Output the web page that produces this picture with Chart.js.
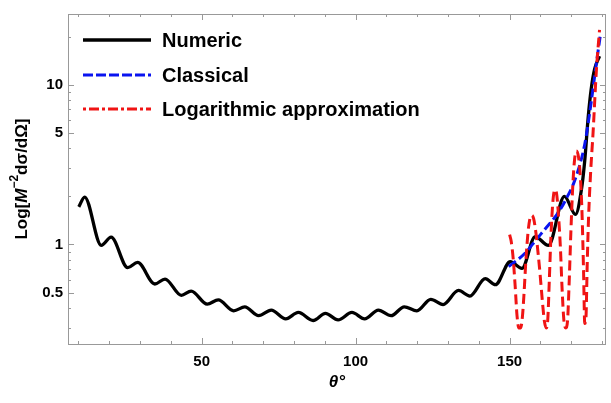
<!DOCTYPE html>
<html>
<head>
<meta charset="utf-8">
<script src="https://cdn.jsdelivr.net/npm/chart.js@4"></script>
<style>
  html, body { margin: 0; padding: 0; background: #fff; }
  #wrap { width: 611px; height: 403px; }
</style>
</head>
<body>
<div id="wrap"><canvas id="chart" width="611" height="403"></canvas></div>
<script>
// DATA

// Numeric (black solid)
var numericTheta = [10.1, 12.0, 17.4, 20.6, 26.0, 29.2, 34.8, 38.1, 43.4, 46.6, 51.8, 55.4, 60.4, 64.0,
    68.5, 72.6, 77.3, 81.4, 86.2, 90.2, 94.3, 98.8, 102.9, 107.4, 111.5, 115.8, 119.9, 124.4, 128.4,
    133.4, 137.1, 142.1, 145.4, 150.2, 154.0, 158.3, 162.6, 167.8, 171.4, 173.3, 174.4, 175.5, 176.5,
    177.6, 179.2];
var numericValue = [1.72, 1.98, 0.986, 1.11, 0.715, 0.771, 0.565, 0.607, 0.480, 0.510, 0.423, 0.449, 0.384, 0.406,
    0.358, 0.388, 0.342, 0.375, 0.334, 0.370, 0.337, 0.375, 0.342, 0.388, 0.358, 0.407, 0.384, 0.453, 0.420,
    0.515, 0.475, 0.610, 0.560, 0.779, 0.708, 1.12, 0.986, 2.0, 1.54, 2.19, 3.35, 6.2, 9.4,
    12.5, 15.1];

// Classical (blue dashed)
var classicalTheta = [149.7, 155.0, 158.8, 162.0, 165.8, 168.5, 171.2, 174.4, 176.5, 178.2, 179.4];
var classicalValue = [0.726, 0.88, 1.08, 1.28, 1.58, 1.95, 2.53, 4.24, 7.8, 13.7, 20];

// Logarithmic approximation (red dot-dashed)
var logTheta = [150.0, 150.5, 151.2, 151.8, 152.4, 153.0, 153.6, 154.2, 154.7, 155.3, 156.0, 156.6, 157.2,
    157.8, 158.5, 159.2, 159.9, 160.6, 161.3, 161.9, 162.4, 162.9, 163.4, 164.0, 164.7, 165.3, 165.9,
    166.5, 167.0, 167.6, 168.2, 168.8, 169.3, 169.9, 170.5, 171.1, 171.7, 172.4, 173.0, 173.5, 174.0,
    174.4, 174.8, 175.2, 175.6, 176.3, 177.1, 178.2, 179.2];
var logValue = [1.15, 1.05, 0.8, 0.55, 0.36, 0.30, 0.30, 0.36, 0.5, 0.8, 1.2, 1.45, 1.52,
    1.45, 1.2, 0.9, 0.65, 0.45, 0.33, 0.30, 0.34, 0.6, 1.1, 1.8, 2.2, 2.05, 1.5,
    0.95, 0.55, 0.34, 0.30, 0.33, 0.55, 1.2, 2.3, 3.4, 3.85, 3.5, 2.6, 1.6, 0.7,
    0.32, 0.35, 0.75, 1.4, 2.8, 5.0, 12.5, 22];

// ticks
var xTickValues = [10, 20, 30, 40, 50, 60, 70, 80, 90, 100, 110, 120, 130, 140, 150, 160, 170, 180];
var xTickLabels = [50, 100, 150];
var yTickValues = [0.3, 0.4, 0.5, 0.6, 0.7, 0.8, 0.9, 1, 2, 3, 4, 5, 6, 7, 8, 9, 10, 20];
var yTickLabels = [0.5, 1, 5, 10];

var seriesNames = ['Numeric', 'Classical', 'Logarithmic approximation'];

function toPoints(xs, ys) {
    return xs.map(function (x, i) { return { x: x, y: ys[i] }; });
}

var FONT = 'Liberation Sans, Arial, sans-serif';
var FRAME = '#999999';

// frame on top/right + inward tick marks on all four sides
var framePlugin = {
    id: 'frame',
    afterDraw: function (chart) {
        var ctx = chart.ctx;
        var a = chart.chartArea;
        var xs = chart.scales.x, ys = chart.scales.y;
        ctx.save();
        ctx.strokeStyle = FRAME;
        ctx.lineWidth = 1;
        ctx.beginPath();
        ctx.moveTo(a.left, a.top + 0.5);
        ctx.lineTo(a.right, a.top + 0.5);
        ctx.moveTo(a.right - 0.5, a.top);
        ctx.lineTo(a.right - 0.5, a.bottom);
        xs.ticks.forEach(function (t) {
            var px = Math.round(xs.getPixelForValue(t.value)) + 0.5;
            var len = xTickLabels.indexOf(t.value) >= 0 ? 6 : 3;
            ctx.moveTo(px, a.bottom);
            ctx.lineTo(px, a.bottom - len);
            ctx.moveTo(px, a.top);
            ctx.lineTo(px, a.top + len);
        });
        ys.ticks.forEach(function (t) {
            var py = Math.round(ys.getPixelForValue(t.value)) + 0.5;
            var len = yTickLabels.indexOf(t.value) >= 0 ? 6 : 3;
            ctx.moveTo(a.left, py);
            ctx.lineTo(a.left + len, py);
            ctx.moveTo(a.right, py);
            ctx.lineTo(a.right - len, py);
        });
        ctx.stroke();

        // y axis title: Log[M^-2 dσ/dΩ]  (M italic, -2 raised)
        var parts = [
            { t: 'Log[', f: 'bold 17px ' + FONT, dy: 0 },
            { t: 'M', f: 'italic bold 17px ' + FONT, dy: 0 },
            { t: '\u22122', f: 'bold 12px ' + FONT, dy: -7 },
            { t: 'd\u03c3/d\u03a9]', f: 'bold 17px ' + FONT, dy: 0 }
        ];
        var total = 0;
        parts.forEach(function (p) { ctx.font = p.f; p.w = ctx.measureText(p.t).width; total += p.w; });
        ctx.translate(22, (a.top + a.bottom) / 2);
        ctx.rotate(-Math.PI / 2);
        ctx.fillStyle = '#000';
        ctx.textBaseline = 'middle';
        var cx = -total / 2;
        parts.forEach(function (p) {
            ctx.font = p.f;
            ctx.fillText(p.t, cx, p.dy);
            cx += p.w;
        });
        ctx.restore();
    }
};

// legend drawn inside the plot, top left
var legendPlugin = {
    id: 'insideLegend',
    afterDraw: function (chart) {
        var ctx = chart.ctx;
        var rows = [40, 75, 109];
        ctx.save();
        chart.data.datasets.forEach(function (ds, i) {
            ctx.strokeStyle = ds.borderColor;
            ctx.lineWidth = ds.borderWidth;
            ctx.setLineDash(ds.legendDash || []);
            ctx.beginPath();
            ctx.moveTo(83, rows[i]);
            ctx.lineTo(151, rows[i]);
            ctx.stroke();
            ctx.setLineDash([]);
            ctx.fillStyle = '#000';
            ctx.font = 'bold 20px ' + FONT;
            ctx.textBaseline = 'middle';
            ctx.fillText(ds.label, 162, rows[i] + 1);
        });
        ctx.restore();
    }
};

var ctx = document.getElementById('chart').getContext('2d');
var chart = new Chart(ctx, {
    type: 'line',
    data: {
        datasets: [{
            label: seriesNames[0],
            data: toPoints(numericTheta, numericValue),
            borderColor: '#000000',
            borderWidth: 3.3,
            pointRadius: 0,
            cubicInterpolationMode: 'monotone',
            order: 3
        }, {
            label: seriesNames[1],
            data: toPoints(classicalTheta, classicalValue),
            borderColor: '#0a14f0',
            borderWidth: 3,
            borderDash: [9, 4],
            legendDash: [10, 3],
            pointRadius: 0,
            cubicInterpolationMode: 'monotone',
            order: 2
        }, {
            label: seriesNames[2],
            data: toPoints(logTheta, logValue),
            borderColor: '#f01414',
            borderWidth: 3,
            borderDash: [10, 5],
            legendDash: [3, 3, 10, 3],
            pointRadius: 0,
            cubicInterpolationMode: 'monotone',
            order: 1
        }]
    },
    options: {
        responsive: false,
        animation: false,
        devicePixelRatio: 1,
        layout: { padding: { top: 7, right: 1, left: 0, bottom: 0 } },
        plugins: {
            legend: { display: false },
            tooltip: { enabled: false }
        },
        scales: {
            x: {
                type: 'linear',
                min: 6.6,
                max: 181.3,
                afterBuildTicks: function (scale) {
                    scale.ticks = xTickValues.map(function (v) { return { value: v }; });
                },
                afterFit: function (scale) { scale.height = 59; },
                grid: { display: false, drawTicks: false },
                border: { display: true, color: FRAME, width: 1 },
                ticks: {
                    autoSkip: false,
                    maxRotation: 0,
                    padding: 9,
                    color: '#000',
                    font: { family: FONT, weight: 'bold', size: 15 },
                    callback: function (v) { return xTickLabels.indexOf(v) >= 0 ? String(v) : ''; }
                },
                title: {
                    display: true,
                    text: 'θ°',
                    color: '#000',
                    font: { family: FONT, weight: 'bold', style: 'italic', size: 17 },
                    padding: { top: 0, bottom: 10 }
                }
            },
            y: {
                type: 'logarithmic',
                min: 0.238,
                max: 27.7,
                afterBuildTicks: function (scale) {
                    scale.ticks = yTickValues.map(function (v) { return { value: v }; });
                },
                afterFit: function (scale) { scale.width = 68; },
                grid: { display: false, drawTicks: false },
                border: { display: true, color: FRAME, width: 1 },
                ticks: {
                    autoSkip: false,
                    padding: 5,
                    color: '#000',
                    font: { family: FONT, weight: 'bold', size: 15 },
                    callback: function (v) { return yTickLabels.indexOf(v) >= 0 ? String(v) : ''; }
                },
                title: { display: false }
            }
        }
    },
    plugins: [framePlugin, legendPlugin]
});
</script>
</body>
</html>
